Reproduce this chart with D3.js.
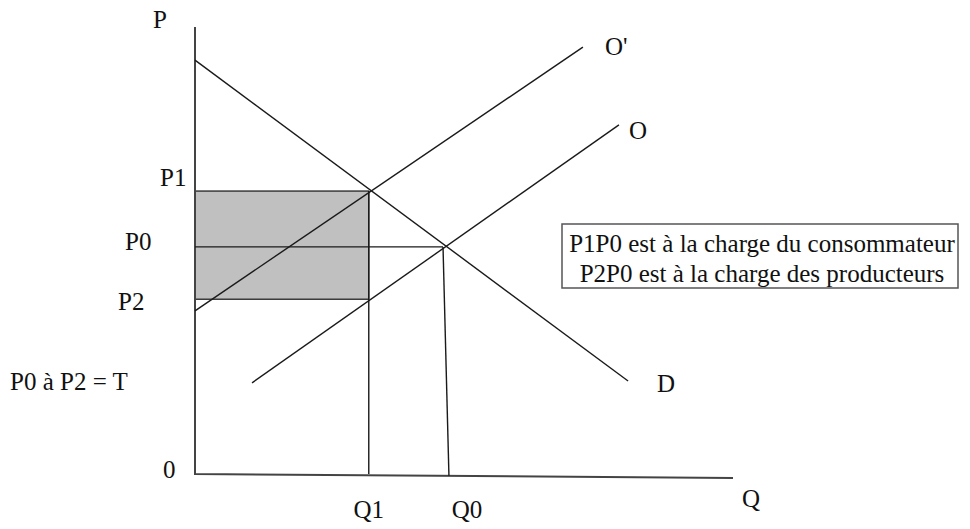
<!DOCTYPE html>
<html><head><meta charset="utf-8">
<script src="https://cdn.jsdelivr.net/npm/d3@7"></script>
<style>body{margin:0;background:#fff}svg{display:block}</style>
</head><body>
<svg id="c" width="970" height="529"></svg>
<script>
// Data (price P vs quantity Q, arbitrary units 0-100)
const demand = [[0, 92.6], [80.5, 20.8]];          // D
const supply = [[10.6, 20.4], [78.8, 78.1]];       // O
const supplyTax = [[0, 36.5], [72.1, 95.5]];       // O'
const prices = {P1: 63.3, P0: 50.8, P2: 39.1};
const quantities = {Q1: 32.3, Q0: 46.1};
const q0Bottom = 47.2;
const priceLabels = ["P1", "P0", "P2"];
const quantityLabels = ["Q1", "Q0"];
const curveLabels = ["O'", "O", "D"];
const noteLines = ["P1P0 est à la charge du consommateur", "P2P0 est à la charge des producteurs"];
const taxNote = "P0 à P2 = T";

const svg = d3.select("#c");
const x = d3.scaleLinear().domain([0, 100]).range([195, 733]);
const y = d3.scaleLinear().domain([0, 100]).range([474, 27]);
const line = d3.line().x(d => x(d[0])).y(d => y(d[1]));

// shaded tax rectangle
svg.append("rect")
  .attr("x", x(0)).attr("y", y(prices.P1))
  .attr("width", x(quantities.Q1) - x(0))
  .attr("height", y(prices.P2) - y(prices.P1))
  .attr("fill", "#c0c0c0").attr("stroke", "#222").attr("stroke-width", 1.3);

// axes
svg.append("path").attr("d", line([[0, 100], [0, 0], [100, -0.9]]))
  .attr("fill", "none").attr("stroke", "#444").attr("stroke-width", 2);

const stroke = (sel, w) => sel.attr("fill", "none").attr("stroke", "#1a1a1a").attr("stroke-width", w || 1.4);

// P0 horizontal
stroke(svg.append("path").attr("d", line([[0, prices.P0], [quantities.Q0, prices.P0]])));
// Q1 vertical
stroke(svg.append("path").attr("d", line([[quantities.Q1, prices.P1], [quantities.Q1, 0]])));
// Q0 vertical (slightly slanted)
stroke(svg.append("path").attr("d", line([[quantities.Q0, prices.P0], [q0Bottom, -0.4]])));

// curves
[demand, supply, supplyTax].forEach(d => stroke(svg.append("path").attr("d", line(d))));

const fs = 25;
const t = (txt, px, py, anchor) => svg.append("text").attr("x", px).attr("y", py)
  .style("font-family", "Liberation Serif").attr("fill", "#111")
  .attr("font-size", fs).attr("text-anchor", anchor || "start").text(txt);

// axis labels
t("P", 153, 28);
t("0", 163, 478);
t("Q", 742, 507);
// price labels
const pLab = {P1: [160, -5], P0: [125, 3], P2: [118, 11]};
priceLabels.forEach(k => t(k, pLab[k][0], y(prices[k]) + pLab[k][1]));
// quantity labels
const qOff = {Q1: 0, Q0: 24};
quantityLabels.forEach(k => t(k, x(quantities[k]) + qOff[k], 518, "middle"));
// curve labels
t(curveLabels[0], 605, 55);
t(curveLabels[1], 629, 139);
t(curveLabels[2], 657, 392);
// tax note
t(taxNote, 10, 390);

// note box
svg.append("rect").attr("x", 562).attr("y", 224).attr("width", 396).attr("height", 64)
  .attr("fill", "none").attr("stroke", "#555").attr("stroke-width", 1.5);
noteLines.forEach((s, i) => t(s, 762, 252 + i * 30, "middle"));
</script>
</body></html>
